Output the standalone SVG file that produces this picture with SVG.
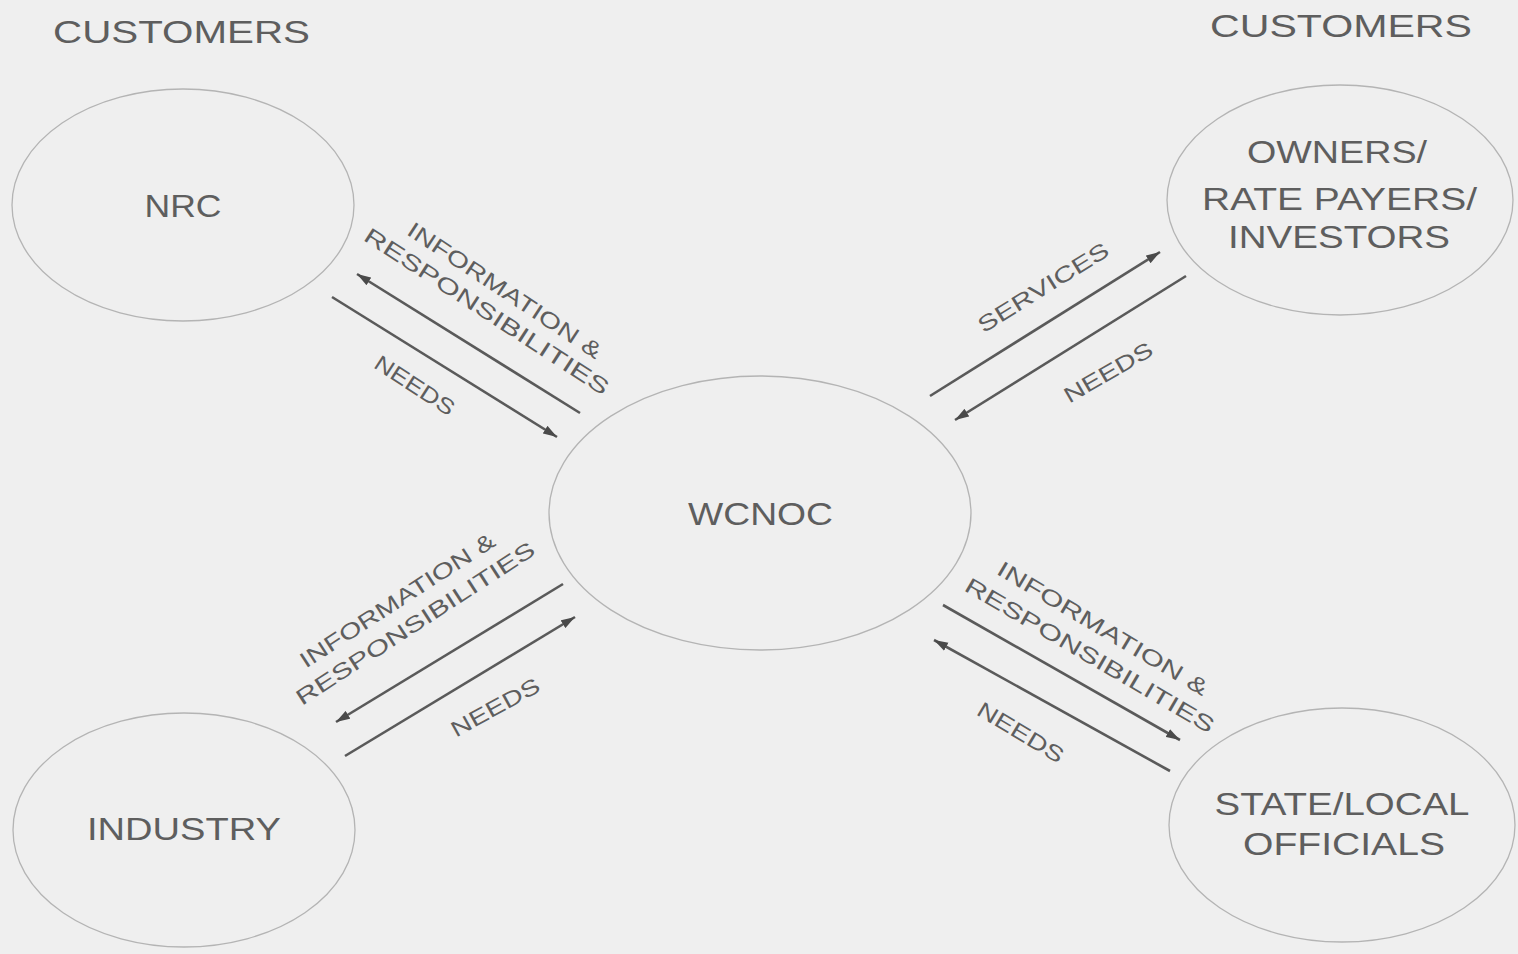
<svg xmlns="http://www.w3.org/2000/svg" width="1518" height="954" viewBox="0 0 1518 954">
<style>
.bg{fill:#efefef}
.node{fill:none;stroke:#b4b4b4;stroke-width:1.3}
.t{font-family:"Liberation Sans",Arial,sans-serif;fill:#5e5e5e;text-anchor:middle}
.big{font-size:32px}
.lab{font-size:22px}
.arr{stroke:#5a5a5a;stroke-width:2.6;fill:none;marker-end:url(#ah)}
</style>
<defs>
<marker id="ah" markerUnits="userSpaceOnUse" markerWidth="16" markerHeight="10" refX="14" refY="5" orient="auto">
<path d="M0,0.5 L14,5 L0,9.5 z" fill="#4a4a4a"/>
</marker>
</defs>
<rect class="bg" x="0" y="0" width="1518" height="954"/>
<g id="titles">
<text class="t big" x="181.5" y="43" textLength="257" lengthAdjust="spacingAndGlyphs">CUSTOMERS</text>
<text class="t big" x="1341" y="37" textLength="262" lengthAdjust="spacingAndGlyphs">CUSTOMERS</text>
</g>
<g id="nrc">
<ellipse class="node" cx="183" cy="205" rx="171" ry="116"/>
<text class="t big" x="183" y="217" textLength="77" lengthAdjust="spacingAndGlyphs">NRC</text>
</g>
<g id="owners">
<ellipse class="node" cx="1340" cy="200" rx="173" ry="115"/>
<text class="t big" x="1337" y="163" textLength="180" lengthAdjust="spacingAndGlyphs">OWNERS/</text>
<text class="t big" x="1339.5" y="210" textLength="275" lengthAdjust="spacingAndGlyphs">RATE PAYERS/</text>
<text class="t big" x="1339" y="248" textLength="222" lengthAdjust="spacingAndGlyphs">INVESTORS</text>
</g>
<g id="wcnoc">
<ellipse class="node" cx="760" cy="513" rx="211" ry="137"/>
<text class="t big" x="760.5" y="525" textLength="145" lengthAdjust="spacingAndGlyphs">WCNOC</text>
</g>
<g id="industry">
<ellipse class="node" cx="184" cy="830" rx="171" ry="117"/>
<text class="t big" x="184" y="840" textLength="194" lengthAdjust="spacingAndGlyphs">INDUSTRY</text>
</g>
<g id="state">
<ellipse class="node" cx="1342" cy="825" rx="173" ry="117"/>
<text class="t big" x="1342" y="815" textLength="255" lengthAdjust="spacingAndGlyphs">STATE/LOCAL</text>
<text class="t big" x="1344" y="855" textLength="202" lengthAdjust="spacingAndGlyphs">OFFICIALS</text>
</g>
<g id="connectors">
<line class="arr" x1="580" y1="413" x2="357" y2="274"/>
<line class="arr" x1="332" y1="297" x2="557" y2="437"/>
<line class="arr" x1="930" y1="396" x2="1160" y2="252"/>
<line class="arr" x1="1186" y1="276" x2="955" y2="420"/>
<line class="arr" x1="563" y1="584" x2="336" y2="722"/>
<line class="arr" x1="345" y1="756" x2="575" y2="617"/>
<line class="arr" x1="943" y1="605" x2="1180" y2="740"/>
<line class="arr" x1="1170" y1="771" x2="934" y2="640"/>
</g>
<g id="labels">
<text class="t lab" transform="translate(505,290) rotate(33.5)" y="8" textLength="228" lengthAdjust="spacingAndGlyphs">INFORMATION &amp;</text>
<text class="t lab" transform="translate(487,311) rotate(33)" y="8" textLength="287" lengthAdjust="spacingAndGlyphs">RESPONSIBILITIES</text>
<text class="t lab" transform="translate(415,385) rotate(33)" y="8" textLength="91" lengthAdjust="spacingAndGlyphs">NEEDS</text>
<text class="t lab" transform="translate(1043,287) rotate(-31.9)" y="8" textLength="150" lengthAdjust="spacingAndGlyphs">SERVICES</text>
<text class="t lab" transform="translate(1108,372) rotate(-30)" y="8" textLength="99" lengthAdjust="spacingAndGlyphs">NEEDS</text>
<text class="t lab" transform="translate(397,600) rotate(-33)" y="8" textLength="228" lengthAdjust="spacingAndGlyphs">INFORMATION &amp;</text>
<text class="t lab" transform="translate(415,623) rotate(-33)" y="8" textLength="280" lengthAdjust="spacingAndGlyphs">RESPONSIBILITIES</text>
<text class="t lab" transform="translate(495,707) rotate(-29)" y="8" textLength="98" lengthAdjust="spacingAndGlyphs">NEEDS</text>
<text class="t lab" transform="translate(1103,628) rotate(30.7)" y="8" textLength="241" lengthAdjust="spacingAndGlyphs">INFORMATION &amp;</text>
<text class="t lab" transform="translate(1090,655) rotate(30.3)" y="8" textLength="285" lengthAdjust="spacingAndGlyphs">RESPONSIBILITIES</text>
<text class="t lab" transform="translate(1021,732) rotate(31)" y="8" textLength="97" lengthAdjust="spacingAndGlyphs">NEEDS</text>
</g>
</svg>
